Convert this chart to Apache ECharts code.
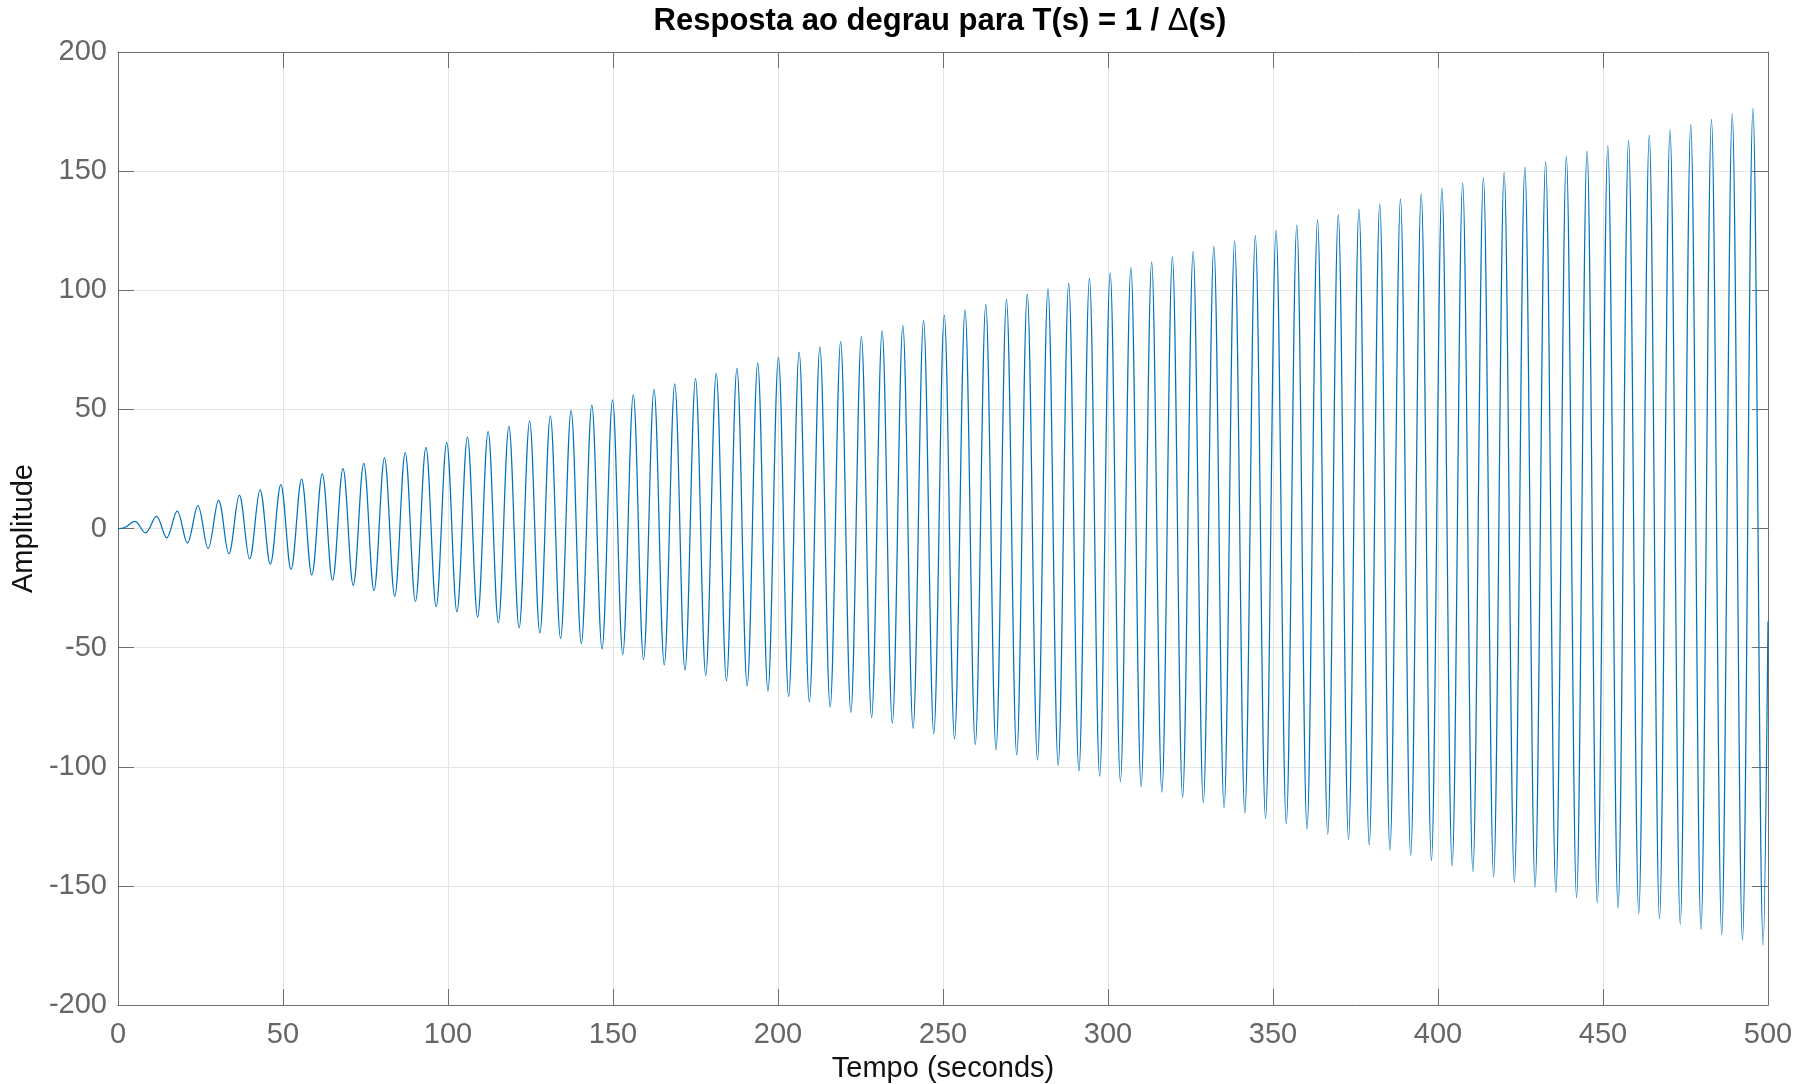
<!DOCTYPE html>
<html>
<head>
<meta charset="utf-8">
<script src="https://cdn.jsdelivr.net/npm/echarts@6/dist/echarts.min.js"></script>
<style>html,body{margin:0;padding:0;background:#fff;}#c{width:1807px;height:1084px;}</style>
</head>
<body>
<div id="c"></div>
<script>
// Times (s) and amplitudes of the oscillation's local maxima
const peakTime = [5.1, 11.63, 17.92, 24.2, 30.48, 36.77, 43.05, 49.33, 55.62, 61.9,
  68.18, 74.47, 80.75, 87.03, 93.31, 99.6, 105.88, 112.16, 118.45, 124.73,
  131.01, 137.3, 143.58, 149.86, 156.15, 162.43, 168.71, 175.0, 181.28, 187.56,
  193.85, 200.13, 206.41, 212.7, 218.98, 225.26, 231.55, 237.83, 244.11, 250.39,
  256.68, 262.96, 269.24, 275.53, 281.81, 288.09, 294.38, 300.66, 306.94, 313.23,
  319.51, 325.79, 332.08, 338.36, 344.64, 350.93, 357.21, 363.49, 369.78, 376.06,
  382.34, 388.63, 394.91, 401.19, 407.47, 413.76, 420.04, 426.32, 432.61, 438.89,
  445.17, 451.46, 457.74, 464.02, 470.31, 476.59, 482.87, 489.16, 495.44];
const peakAmp = [3.0, 5.1, 7.3, 9.6, 11.8, 14.0, 16.2, 18.4, 20.7, 22.9,
  25.1, 27.3, 29.6, 31.8, 34.0, 36.2, 38.4, 40.7, 42.9, 45.1,
  47.3, 49.5, 51.8, 54.0, 56.2, 58.4, 60.7, 62.9, 65.1, 67.3,
  69.5, 71.8, 74.0, 76.2, 78.4, 80.6, 82.9, 85.1, 87.3, 89.5,
  91.8, 94.0, 96.2, 98.4, 100.6, 102.9, 105.1, 107.3, 109.5, 111.8,
  114.0, 116.2, 118.4, 120.6, 122.9, 125.1, 127.3, 129.5, 131.7, 134.0,
  136.2, 138.4, 140.6, 142.9, 145.1, 147.3, 149.5, 151.7, 154.0, 156.2,
  158.4, 160.6, 162.9, 165.1, 167.3, 169.5, 171.7, 174.0, 176.2];
// local minima
const troughTime = [8.3, 14.73, 21.02, 27.3, 33.58, 39.87, 46.15, 52.43, 58.72, 65.0,
  71.28, 77.57, 83.85, 90.13, 96.41, 102.7, 108.98, 115.26, 121.55, 127.83,
  134.11, 140.4, 146.68, 152.96, 159.25, 165.53, 171.81, 178.1, 184.38, 190.66,
  196.95, 203.23, 209.51, 215.8, 222.08, 228.36, 234.65, 240.93, 247.21, 253.49,
  259.78, 266.06, 272.34, 278.63, 284.91, 291.19, 297.48, 303.76, 310.04, 316.33,
  322.61, 328.89, 335.18, 341.46, 347.74, 354.03, 360.31, 366.59, 372.88, 379.16,
  385.44, 391.73, 398.01, 404.29, 410.57, 416.86, 423.14, 429.42, 435.71, 441.99,
  448.27, 454.56, 460.84, 467.12, 473.41, 479.69, 485.97, 492.26, 498.54];
const troughAmp = [-1.8, -3.9, -6.1, -8.4, -10.6, -12.8, -15.0, -17.2, -19.5, -21.7,
  -23.9, -26.1, -28.4, -30.6, -32.8, -35.0, -37.2, -39.5, -41.7, -43.9,
  -46.1, -48.3, -50.6, -52.8, -55.0, -57.2, -59.5, -61.7, -63.9, -66.1,
  -68.3, -70.6, -72.8, -75.0, -77.2, -79.4, -81.7, -83.9, -86.1, -88.3,
  -90.6, -92.8, -95.0, -97.2, -99.4, -101.7, -103.9, -106.1, -108.3, -110.6,
  -112.8, -115.0, -117.2, -119.4, -121.7, -123.9, -126.1, -128.3, -130.5, -132.8,
  -135.0, -137.2, -139.4, -141.7, -143.9, -146.1, -148.3, -150.5, -152.8, -155.0,
  -157.2, -159.4, -161.7, -163.9, -166.1, -168.3, -170.5, -172.8, -175.0];
// start and end of the trace
const edgeTime = [0, 2.0, 500];
const edgeAmp = [0, 0.4, -39];

const xTicks = [0, 50, 100, 150, 200, 250, 300, 350, 400, 450, 500];
const yTicks = [-200, -150, -100, -50, 0, 50, 100, 150, 200];

const titleText = 'Resposta ao degrau para T(s) = 1 / ';
const xName = 'Tempo (seconds)';
const yName = 'Amplitude';

const pts = [];
peakTime.forEach((t, i) => pts.push([t, peakAmp[i]]));
troughTime.forEach((t, i) => pts.push([t, troughAmp[i]]));
edgeTime.forEach((t, i) => pts.push([t, edgeAmp[i]]));
pts.sort((a, b) => a[0] - b[0]);

const FONT = '"Liberation Sans", Arial, Helvetica, sans-serif';
const AX = '#6e6e6e';
const xMin = xTicks[0], xMax = xTicks[xTicks.length - 1], xInt = xTicks[1] - xTicks[0];
const yMin = yTicks[0], yMax = yTicks[yTicks.length - 1], yInt = yTicks[1] - yTicks[0];

const chart = echarts.init(document.getElementById('c'), null, {renderer: 'canvas'});
const baseX = {type: 'value', min: xMin, max: xMax, interval: xInt};
const baseY = {type: 'value', min: yMin, max: yMax, interval: yInt};
chart.setOption({
  animation: false,
  backgroundColor: '#fff',
  grid: {left: 118, right: 39, top: 52, bottom: 79, containLabel: false, outerBoundsMode: 'none'},
  graphic: [{
    type: 'text',
    x: 940, y: 21,
    style: {
      text: titleText + '{d|Δ}(s)',
      fontFamily: FONT, fontSize: 31, fontWeight: 'bold', fill: '#000',
      align: 'center', verticalAlign: 'middle',
      rich: {d: {fontFamily: FONT, fontSize: 31, fontWeight: 'normal', fill: '#000'}}
    }
  }],
  xAxis: [
    Object.assign({}, baseX, {
      position: 'bottom',
      name: xName, nameLocation: 'middle', nameGap: 49,
      nameTextStyle: {fontFamily: FONT, fontSize: 29, color: '#111'},
      axisLine: {show: true, onZero: false, lineStyle: {color: AX, width: 1}},
      axisTick: {show: true, inside: true, length: 16, lineStyle: {color: AX}},
      axisLabel: {show: true, margin: 15, fontFamily: FONT, fontSize: 29, color: '#666'},
      splitLine: {show: true, lineStyle: {color: '#e4e4e4', width: 1}}
    }),
    Object.assign({}, baseX, {
      position: 'top',
      axisLine: {show: true, onZero: false, lineStyle: {color: AX, width: 1}},
      axisTick: {show: true, inside: true, length: 16, lineStyle: {color: AX}},
      axisLabel: {show: false},
      splitLine: {show: false}
    })
  ],
  yAxis: [
    Object.assign({}, baseY, {
      position: 'left',
      name: yName, nameLocation: 'middle', nameGap: 73, nameRotate: 90,
      nameTextStyle: {fontFamily: FONT, fontSize: 29, color: '#111'},
      axisLine: {show: true, onZero: false, lineStyle: {color: AX, width: 1}},
      axisTick: {show: true, inside: true, length: 16, lineStyle: {color: AX}},
      axisLabel: {show: true, margin: 11, fontFamily: FONT, fontSize: 29, color: '#666', padding: [9, 0, 0, 0]},
      splitLine: {show: true, lineStyle: {color: '#e4e4e4', width: 1}}
    }),
    Object.assign({}, baseY, {
      position: 'right',
      axisLine: {show: true, onZero: false, lineStyle: {color: AX, width: 1}},
      axisTick: {show: true, inside: true, length: 16, lineStyle: {color: AX}},
      axisLabel: {show: false},
      splitLine: {show: false}
    })
  ],
  series: [{
    type: 'line',
    xAxisIndex: 0, yAxisIndex: 0,
    data: pts,
    showSymbol: false,
    smooth: 0.36,
    lineStyle: {color: '#0072BD', width: 1.25},
    emphasis: {disabled: true},
    z: 1
  }]
});
</script>
</body>
</html>
